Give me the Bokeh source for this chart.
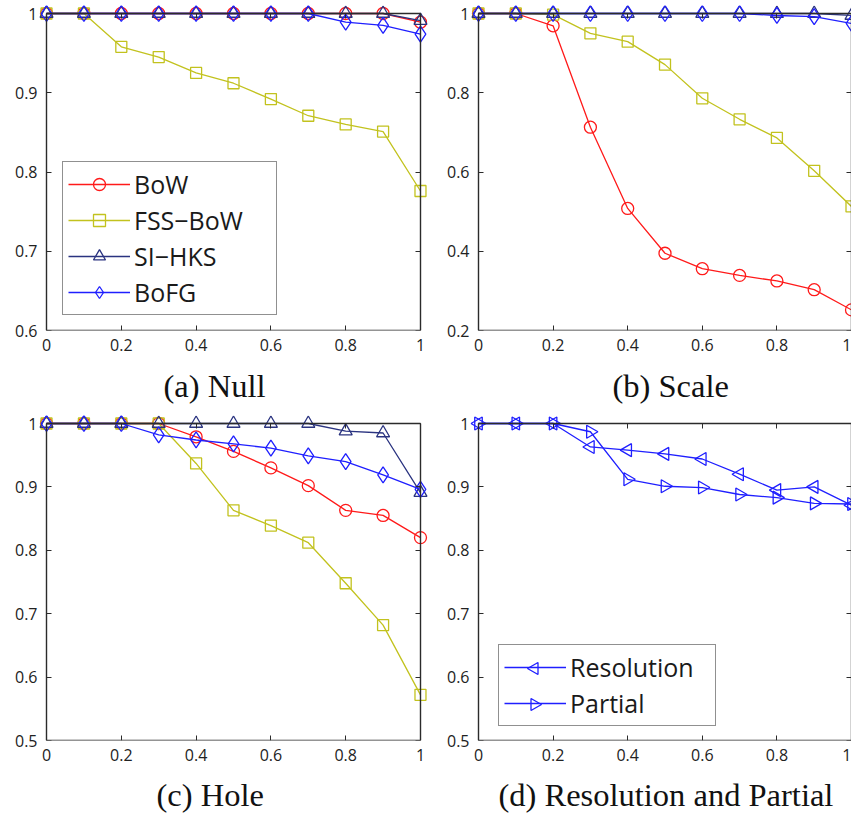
import numpy as np
from bokeh.plotting import figure
from bokeh.layouts import column, row
from bokeh.models import (FixedTicker, LinearAxis, CustomJSTickFormatter, Range1d,
                          PolyAnnotation, Title)
from bokeh.embed import file_html
from bokeh.resources import INLINE

# ---------------- data ----------------
x_vals = [0.0, 0.1, 0.2, 0.3, 0.4, 0.5, 0.6, 0.7, 0.8, 0.9, 1.0]
x_ticks = [0.0, 0.2, 0.4, 0.6, 0.8, 1.0]

null_bow = [1, 1, 1, 1, 1, 1, 1, 1, 1, 1, 0.989]
null_fss = [1, 1, 0.958, 0.945, 0.925, 0.912, 0.892, 0.871, 0.860, 0.851, 0.776]
null_sihks = [1, 1, 1, 1, 1, 1, 1, 1, 1, 1, 0.991]
null_bofg = [1, 1, 1, 1, 1, 1, 1, 1, 0.989, 0.985, 0.974]
null_yticks = [0.6, 0.7, 0.8, 0.9, 1.0]

scale_bow = [1, 1, 0.969, 0.713, 0.508, 0.395, 0.356, 0.339, 0.325, 0.303, 0.252]
scale_fss = [1, 1, 0.997, 0.950, 0.929, 0.871, 0.786, 0.733, 0.686, 0.603, 0.513]
scale_sihks = [1, 1, 1, 1, 1, 1, 1, 1, 1, 1, 0.995]
scale_bofg = [1, 1, 1, 1, 1, 1, 1, 1, 0.995, 0.992, 0.975]
scale_yticks = [0.2, 0.4, 0.6, 0.8, 1.0]

hole_bow = [1, 1, 1, 1, 0.979, 0.956, 0.930, 0.902, 0.863, 0.855, 0.820]
hole_fss = [1, 1, 1, 1, 0.937, 0.863, 0.839, 0.812, 0.748, 0.682, 0.572]
hole_sihks = [1, 1, 1, 1, 1, 1, 1, 1, 0.988, 0.985, 0.891]
hole_bofg = [1, 1, 1, 0.982, 0.974, 0.968, 0.961, 0.949, 0.940, 0.919, 0.896]
hole_yticks = [0.5, 0.6, 0.7, 0.8, 0.9, 1.0]

res_resolution = [1, 1, 1, 0.963, 0.958, 0.952, 0.944, 0.920, 0.895, 0.900, 0.871]
res_partial = [1, 1, 1, 0.987, 0.912, 0.901, 0.899, 0.888, 0.883, 0.874, 0.873]
res_yticks = [0.5, 0.6, 0.7, 0.8, 0.9, 1.0]

labels4 = ["BoW", "FSS\u2212BoW", "SI\u2212HKS", "BoFG"]
labels2 = ["Resolution", "Partial"]
captions = ["(a) Null", "(b) Scale", "(c) Hole", "(d) Resolution and Partial"]

# ---------------- styles ----------------
RED = "#ff1a1a"
YEL = "#c2c21e"
NAVY = "#2a3380"
BLUE = "#1f1fff"
AXC = "#2b2b2b"
TICK_FONT = "Open Sans"
CAP_FONT = "Liberation Serif"
PAD = 8          # px of room around the axes box so edge markers are not clipped
PLOT_W = 373     # px from x=0 to x=1
PLOT_H = 317     # px from y=min to y=1

fmt = CustomJSTickFormatter(code="return (Math.round(tick*10)/10).toString();")


def box_axis(ticks, loc, bounds):
    return LinearAxis(ticker=FixedTicker(ticks=ticks), major_label_text_font_size="1px",
                      major_label_text_color=None, major_tick_in=5, major_tick_out=0,
                      minor_tick_in=0, minor_tick_out=0, axis_line_color=AXC,
                      axis_line_width=1.4, major_tick_line_color=AXC,
                      major_label_standoff=0, fixed_location=loc, bounds=bounds)


def spacer_axis(gap):
    # invisible axis whose (undrawn) outer ticks only add room above the caption
    return LinearAxis(ticker=FixedTicker(ticks=x_ticks), major_label_text_font_size="1px",
                      major_label_text_color=None, major_tick_in=0, major_tick_out=gap,
                      minor_tick_in=0, minor_tick_out=0, axis_line_color=None,
                      major_tick_line_color=None, minor_tick_line_color=None,
                      major_label_standoff=0)


def make_panel(width, height, bl, br, bb, ylo, yticks, caption, cap_offset, cap_gap,
               pad_right=True):
    xpad = PAD / PLOT_W
    ypad = PAD * (1.0 - ylo) / PLOT_H
    p = figure(width=width, height=height, output_backend="svg", toolbar_location=None,
               x_range=Range1d(-xpad, 1.0 + (xpad if pad_right else 0.0)),
               y_range=Range1d(ylo, 1.0 + ypad),
               min_border_left=bl, min_border_right=br, min_border_top=13 - PAD,
               min_border_bottom=bb, background_fill_color="white",
               border_fill_color="white", outline_line_color=None)
    p.grid.visible = False
    p.xaxis.ticker = FixedTicker(ticks=x_ticks)
    p.yaxis.ticker = FixedTicker(ticks=yticks)
    for ax in (p.xaxis[0], p.yaxis[0]):
        ax.formatter = fmt
        ax.major_tick_in = 0
        ax.major_tick_out = 0
        ax.minor_tick_in = 0
        ax.minor_tick_out = 0
        ax.axis_line_color = None
        ax.major_tick_line_color = None
        ax.major_label_text_font = TICK_FONT
        ax.major_label_text_font_size = "16px"
        ax.major_label_text_color = "#222222"
    # labelled axes carry only texts; the box is drawn by box_axis below
    p.yaxis.major_label_standoff = 1
    p.xaxis.major_label_standoff = 8
    # axes box with inward ticks
    p.add_layout(box_axis(yticks, 0.0, (ylo, 1)), "left")
    p.add_layout(box_axis(x_ticks, ylo, (0, 1)), "below")
    p.add_layout(box_axis(x_ticks, 1.0, (0, 1)), "above")
    p.add_layout(box_axis(yticks, 1.0, (ylo, 1)), "right")
    p.add_layout(spacer_axis(cap_gap), "below")
    # sub-figure caption below the axes
    p.add_layout(Title(text=caption, align="left", offset=cap_offset, vertical_align="top",
                       standoff=0, text_font=CAP_FONT, text_font_size="32.5px",
                       text_font_style="normal", text_color="#111111"), "below")
    return p


def add_series(p, ys, color, marker, label, size=12, angle=0.0, marker_in_legend=True):
    p.line(x_vals, ys, line_color=color, line_width=1.3, legend_label=label)
    kw = dict(legend_label=label) if marker_in_legend else {}
    p.scatter(x_vals, ys, marker=marker, size=size, angle=angle, fill_color=None,
              line_color=color, line_width=1.3, **kw)


def style_legend(p, loc, label_width, bg_alpha=1.0):
    lg = p.legend[0]
    lg.location = loc
    lg.label_text_font = TICK_FONT
    lg.label_text_font_size = "25px"
    lg.label_text_color = "#1a1a1a"
    lg.glyph_width = 62
    lg.glyph_height = 30
    lg.label_height = 30
    lg.label_width = label_width
    lg.label_standoff = 4
    lg.spacing = 2
    lg.padding = 5
    lg.margin = 0
    lg.border_line_color = "#222222"
    lg.border_line_width = 1.5
    lg.background_fill_color = "white"
    lg.background_fill_alpha = bg_alpha


# (a) Null
pa = make_panel(430, 410, 46 - PAD, 10 - PAD, 80, 0.6, null_yticks, captions[0], 125, 14)
add_series(pa, null_bow, RED, "circle", labels4[0])
add_series(pa, null_fss, YEL, "square", labels4[1], size=11)
add_series(pa, null_sihks, NAVY, "triangle", labels4[2], size=13)
add_series(pa, null_bofg, BLUE, "diamond", labels4[3], size=16)
style_legend(pa, (24, 15), 137)

# (b) Scale
pb = make_panel(421, 410, 48 - PAD, 0, 80, 0.2, scale_yticks, captions[1], 142, 14,
                pad_right=False)
add_series(pb, scale_bow, RED, "circle", labels4[0])
add_series(pb, scale_fss, YEL, "square", labels4[1], size=11)
add_series(pb, scale_sihks, NAVY, "triangle", labels4[2], size=13)
add_series(pb, scale_bofg, BLUE, "diamond", labels4[3], size=16)
pb.legend[0].visible = False

# (c) Hole
pc = make_panel(430, 408, 46 - PAD, 10 - PAD, 78, 0.5, hole_yticks, captions[2], 118, 13)
add_series(pc, hole_bow, RED, "circle", labels4[0])
add_series(pc, hole_fss, YEL, "square", labels4[1], size=11)
add_series(pc, hole_sihks, NAVY, "triangle", labels4[2], size=13)
add_series(pc, hole_bofg, BLUE, "diamond", labels4[3], size=16)
pc.legend[0].visible = False

# (d) Resolution and Partial
D_YLO = 0.5
pd_ = make_panel(421, 408, 48 - PAD, 0, 78, D_YLO, res_yticks, captions[3], 28, 13,
                 pad_right=False)
add_series(pd_, res_resolution, BLUE, "triangle", labels2[0], size=13, angle=np.pi / 2,
           marker_in_legend=False)
add_series(pd_, res_partial, BLUE, "triangle", labels2[1], size=13, angle=-np.pi / 2,
           marker_in_legend=False)
LEG_D = (28, 14)
style_legend(pd_, LEG_D, 140, bg_alpha=0.0)

# legend keys for the sideways triangles (Bokeh legends do not rotate markers);
# legend-frame pixel offsets converted to the panel's data space
x_per_px = 1.0 / PLOT_W
y_per_px = (1.0 - D_YLO) / PLOT_H
x_left = -PAD / PLOT_W
gx = LEG_D[0] + 5 + 31
row_bottom = LEG_D[1] + 5 + 17
row_top = row_bottom + 36
r = 7.0
for cy, direction in ((row_top, -1), (row_bottom, 1)):
    tip = gx + direction * r
    back = gx - direction * r * 0.5
    pxs = [tip, back, back]
    pys = [cy, cy + r * 0.866, cy - r * 0.866]
    tri = PolyAnnotation(xs=[x_left + v * x_per_px for v in pxs],
                         ys=[D_YLO + v * y_per_px for v in pys],
                         fill_alpha=0, fill_color="white", line_color=BLUE,
                         line_width=1.3, line_alpha=1.0, level="overlay")
    pd_.add_layout(tri)

layout = column(row(pa, pb), row(pc, pd_))

open("out.html", "w").write(file_html(layout, INLINE))
